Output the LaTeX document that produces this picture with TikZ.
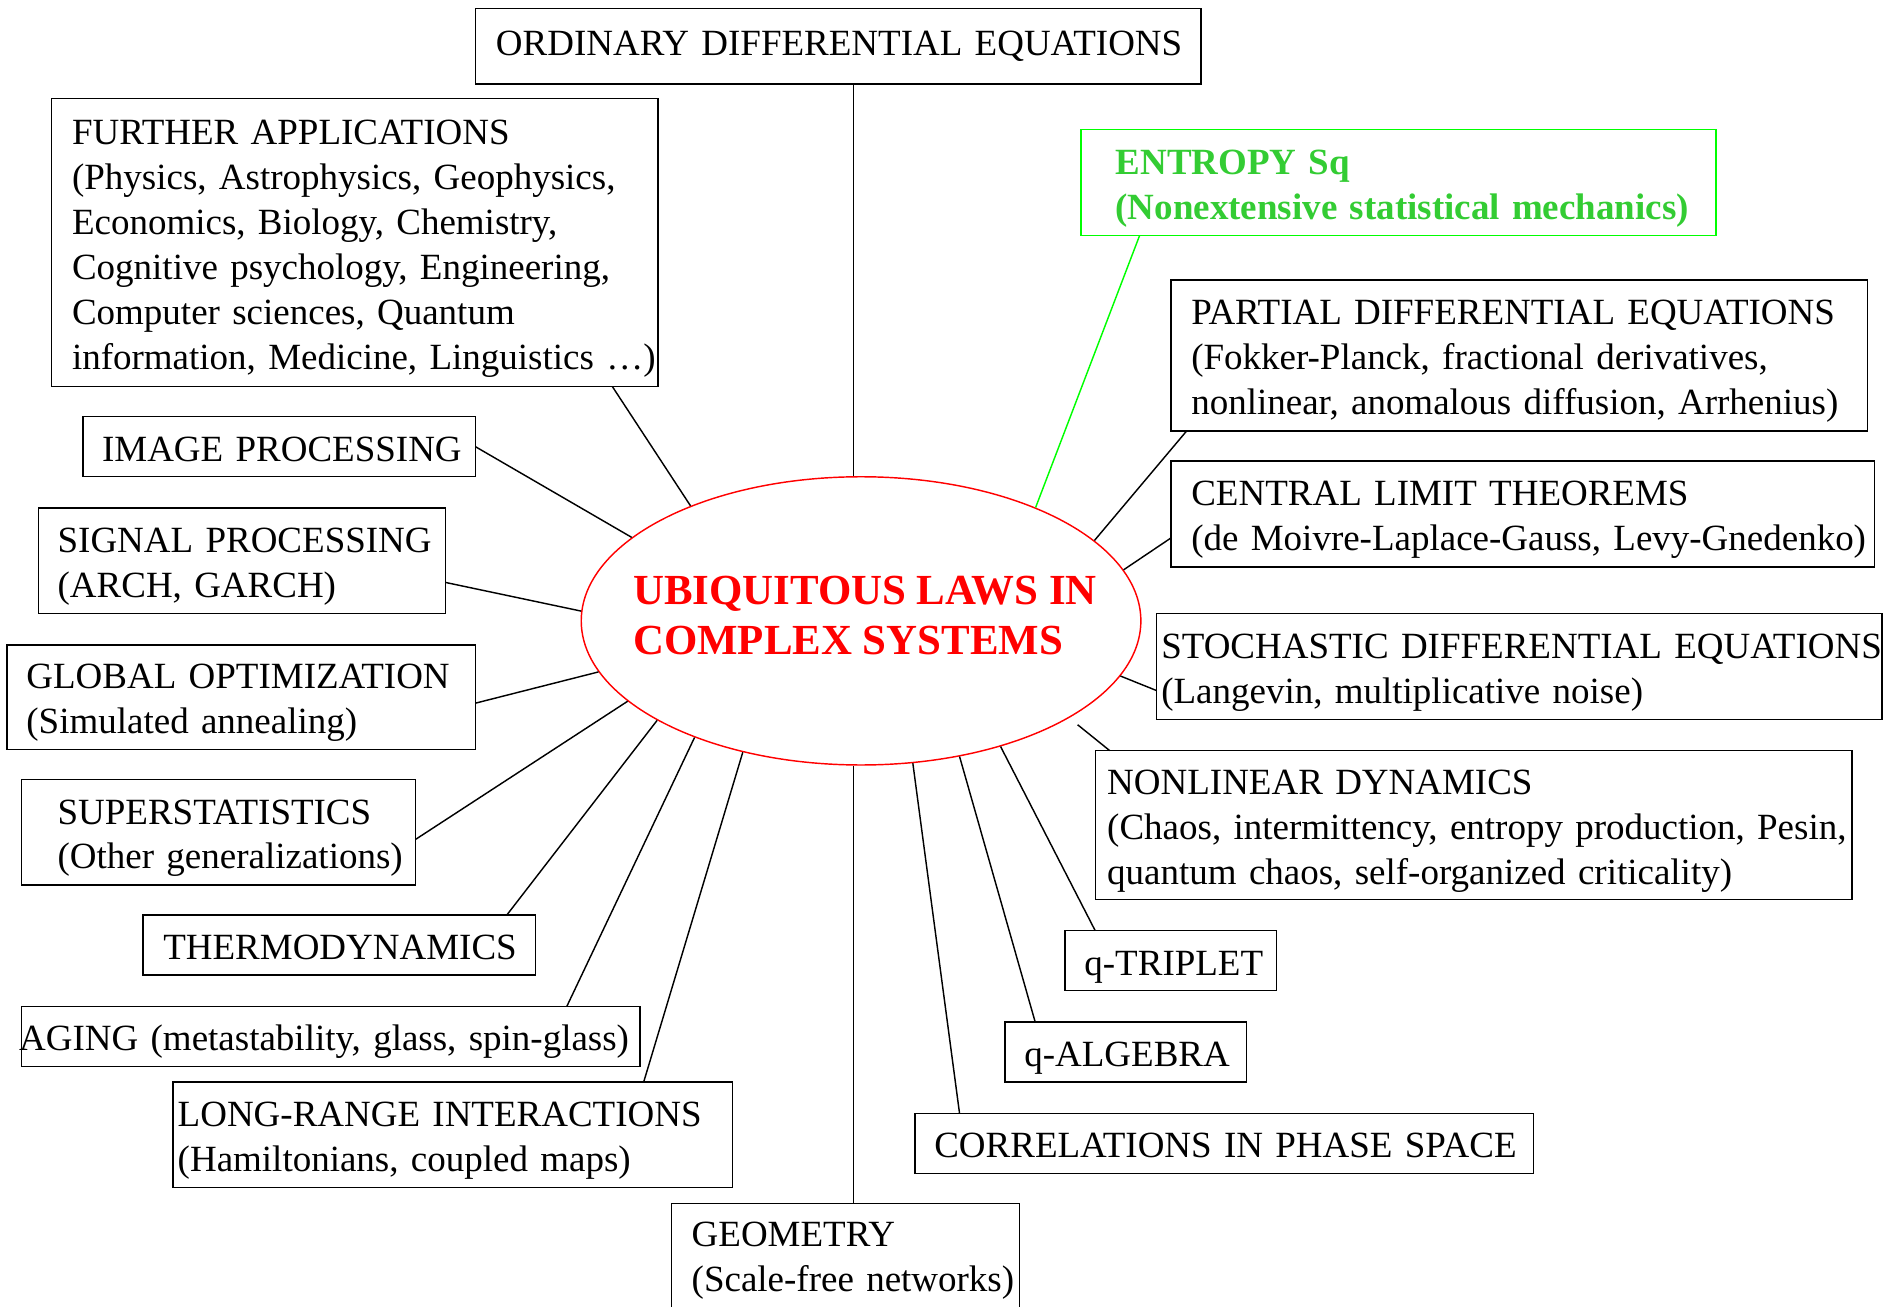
\documentclass[tikz,border=0pt]{standalone}
\usepackage{fontspec}
\setmainfont{Liberation Serif}
\usetikzlibrary{shapes.geometric}
\definecolor{lawred}{RGB}{255,0,0}
\definecolor{entgreen}{RGB}{51,204,51}
\definecolor{entframe}{RGB}{0,255,0}
\newcommand{\boxlines}[2][35pt]{\begin{tabular}{@{}l@{}}\rule{0pt}{#1}#2\end{tabular}}

\begin{document}
\begin{tikzpicture}[x=1pt, y=-1pt,
    every node/.style={font=\fontsize{30.8}{37.4}\selectfont},
    box/.style={draw, line width=1.2pt, anchor=north west, align=left, inner ysep=0pt, outer sep=0pt},
    link/.style={line width=1.2pt}]
  \useasboundingbox (0,0) rectangle (1568,1088);
  % centre
  \node[draw=lawred, ellipse, line width=1.2pt, minimum width=466pt, minimum height=240pt, inner sep=0pt] (hub) at (717,517) {};
  \node[anchor=west, inner sep=0pt, text=lawred, font=\fontsize{35.7}{42}\selectfont\bfseries] (hubtext) at (527,516) {\begin{tabular}{@{}l@{}}UBIQUITOUS LAWS IN\\COMPLEX SYSTEMS\end{tabular}};
  % boxes
  \node[box, inner xsep=17pt, text width=570pt, minimum height=63pt] (ode) at (396,7) {\boxlines[0pt]{ORDINARY DIFFERENTIAL EQUATIONS}};
  \node[box, inner xsep=17pt, text width=471pt, minimum height=240pt] (further) at (43,82) {\boxlines{FURTHER APPLICATIONS\\(Physics, Astrophysics, Geophysics,\\Economics, Biology, Chemistry,\\Cognitive psychology, Engineering,\\Computer sciences, Quantum\\information, Medicine, Linguistics …)}};
  \node[box, draw=entframe, text=entgreen, font=\fontsize{30.8}{37.4}\selectfont\bfseries, inner xsep=29pt, text width=471pt, minimum height=88pt] (entropy) at (900,108) {\boxlines{ENTROPY Sq\\(Nonextensive statistical mechanics)}};
  \node[box, inner xsep=17pt, text width=546pt, minimum height=126pt] (pde) at (975,233) {\boxlines{PARTIAL DIFFERENTIAL EQUATIONS\\(Fokker-Planck, fractional derivatives,\\nonlinear, anomalous diffusion, Arrhenius)}};
  \node[box, inner xsep=16pt, text width=295pt, minimum height=50pt] (image) at (69,347) {\boxlines{IMAGE PROCESSING}};
  \node[box, inner xsep=16pt, text width=307pt, minimum height=88pt] (signal) at (32,423) {\boxlines{SIGNAL PROCESSING\\(ARCH, GARCH)}};
  \node[box, inner xsep=17pt, text width=552pt, minimum height=88pt] (clt) at (975,384) {\boxlines{CENTRAL LIMIT THEOREMS\\(de Moivre-Laplace-Gauss, Levy-Gnedenko)}};
  \node[box, inner xsep=16pt, text width=358pt, minimum height=87pt] (global) at (6,537) {\boxlines{GLOBAL OPTIMIZATION\\(Simulated annealing)}};
  \node[box, inner xsep=4pt, text width=596pt, minimum height=88pt] (stoch) at (963,511) {\boxlines{STOCHASTIC DIFFERENTIAL EQUATIONS\\(Langevin, multiplicative noise)}};
  \node[box, inner xsep=30pt, text width=268pt, minimum height=88pt] (super) at (18,649) {\boxlines{SUPERSTATISTICS\\(Other generalizations)}};
  \node[box, inner xsep=10pt, text width=610pt, minimum height=124pt] (nonlin) at (912,625) {\boxlines{NONLINEAR DYNAMICS\\(Chaos, intermittency, entropy production, Pesin,\\quantum chaos, self-organized criticality)}};
  \node[box, inner xsep=17pt, text width=293pt, minimum height=50pt] (thermo) at (119,762) {\boxlines{THERMODYNAMICS}};
  \node[box, inner xsep=16pt, text width=144pt, minimum height=50pt] (qtrip) at (887,775) {\boxlines{q-TRIPLET}};
  \node[box, inner xsep=-2pt, text width=519pt, minimum height=50pt] (aging) at (18,838) {\boxlines{AGING (metastability, glass, spin-glass)}};
  \node[box, inner xsep=16pt, text width=169pt, minimum height=50pt] (qalg) at (837,851) {\boxlines{q-ALGEBRA}};
  \node[box, inner xsep=4pt, text width=458pt, minimum height=88pt] (long) at (144,901) {\boxlines{LONG-RANGE INTERACTIONS\\(Hamiltonians, coupled maps)}};
  \node[box, inner xsep=16pt, text width=483pt, minimum height=50pt] (corr) at (762,927) {\boxlines{CORRELATIONS IN PHASE SPACE}};
  \node[box, inner xsep=17pt, text width=256pt, minimum height=92pt] (geom) at (559,1002) {\boxlines[28pt]{GEOMETRY\\(Scale-free networks)}};
  % connectors
  \draw[link] (ode.south -| hub.93.4) -- (hub.93.4);
  \draw[link] ([xshift=-38pt]further.south east) -- (hub.146.6);
  \draw[link, draw=entframe] ([xshift=49pt]entropy.south west) -- (hub.33);
  \draw[link] ([xshift=13pt]pde.south west) -- (hub.19.5);
  \draw[link] (image.east) -- (hub.160.2);
  \draw[link] ([yshift=-20pt]clt.west) -- (hub.11.6);
  \draw[link] ([yshift=-18pt]signal.east) -- (hub.178.3);
  \draw[link] ([yshift=-5pt]global.east) -- (hub.191.3);
  \draw[link] ([yshift=-20pt]stoch.west) -- (hub.348.4);
  \draw[link] ([yshift=-6pt]super.east) -- (hub.199.6);
  \draw[link, shorten >=9pt] ([xshift=12pt]nonlin.north west) -- (hub.335.6);
  \draw[link] ([xshift=-24pt]thermo.north east) -- (hub.206);
  \draw[link] ([xshift=25pt]qtrip.north west) -- (hub.318);
  \draw[link] ([xshift=-61pt]aging.north east) -- (hub.215.5);
  \draw[link] ([xshift=25pt]qalg.north west) -- (hub.306.8);
  \draw[link] ([xshift=-74pt]long.north east) -- (hub.228.4);
  \draw[link] ([xshift=37pt]corr.north west) -- (hub.290.7);
  \draw[link] (geom.north -| hub.267.1) -- (hub.267.1);
\end{tikzpicture}
\end{document}
